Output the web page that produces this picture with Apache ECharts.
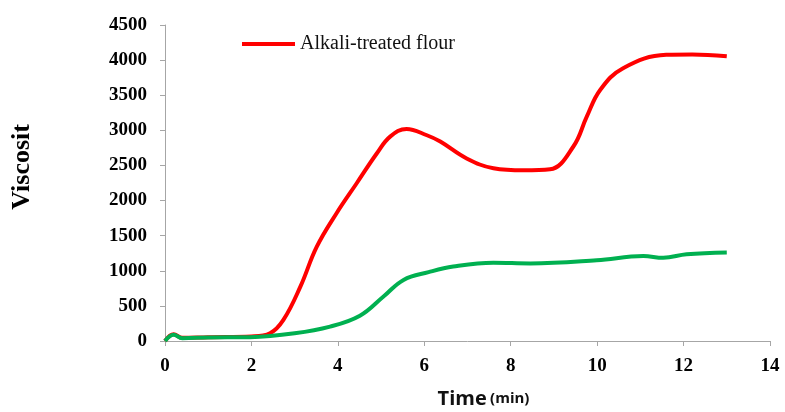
<!DOCTYPE html>
<html>
<head>
<meta charset="utf-8">
<script src="https://cdn.jsdelivr.net/npm/echarts@6/dist/echarts.min.js"></script>
<style>
  html, body { margin: 0; padding: 0; background: #fff; }
  #chart { width: 785px; height: 412px; }
</style>
</head>
<body>
<div id="chart"></div>
<script>
// Viscosity profile (time in min, viscosity)
const alkaliTime = [0, 0.2, 0.4, 1, 2, 2.43, 2.74, 3.13, 3.51, 3.97, 4.44, 4.9, 5.21, 5.59, 6.06, 6.37, 6.98, 7.6, 8.3, 8.91, 9.45, 9.76, 10.07, 10.6, 11.6, 12.2, 13];
const alkaliVisc = [0, 95, 45, 55, 65, 110, 300, 770, 1340, 1820, 2250, 2670, 2910, 3020, 2930, 2840, 2600, 2460, 2430, 2445, 2770, 3195, 3575, 3885, 4075, 4080, 4055];

const nativeTime = [0, 0.2, 0.4, 1, 1.97, 3, 3.82, 4.51, 5.05, 5.52, 6.1, 6.67, 7.6, 8.45, 9.99, 11.07, 11.53, 12.07, 13];
const nativeVisc = [0, 90, 40, 50, 55, 110, 205, 360, 630, 870, 980, 1060, 1115, 1105, 1150, 1210, 1185, 1235, 1260];

const xTicks = [0, 14, 2];      // min, max, interval
const yTicks = [0, 4500, 500];  // min, max, interval

const pair = (xs, ys) => xs.map((x, i) => [x, ys[i]]);

const chart = echarts.init(document.getElementById('chart'));
chart.setOption({
  animation: false,
  grid: { left: 165, right: 15, top: 25, bottom: 71, outerBoundsMode: 'none', containLabel: false },
  legend: {
    data: ['Alkali-treated flour'],
    icon: 'rect',
    left: 242, top: 34, padding: 0,
    itemWidth: 53, itemHeight: 4, itemGap: 5,
    textStyle: { fontFamily: 'Liberation Serif', fontSize: 20, color: '#111', padding: [0, 0, 0, 0] }
  },
  xAxis: {
    type: 'value',
    min: xTicks[0], max: xTicks[1], interval: xTicks[2],
    axisLine: { lineStyle: { color: '#a6a6a6', width: 1 } },
    axisTick: { length: 5, lineStyle: { color: '#a6a6a6' } },
    splitLine: { show: false },
    axisLabel: { margin: 16, fontFamily: 'Liberation Serif', fontWeight: 'bold', fontSize: 19, color: '#000' },
    name: '{a|Time} {b|(min)}',
    nameLocation: 'middle',
    nameGap: 48,
    nameTextStyle: {
      padding: [0, 0, 0, 32],
      rich: {
        a: { fontFamily: 'Open Sans', fontWeight: 'bold', fontSize: 20, color: '#111' },
        b: { fontFamily: 'Open Sans', fontWeight: 'bold', fontSize: 15, color: '#111' }
      }
    }
  },
  yAxis: {
    type: 'value',
    min: yTicks[0], max: yTicks[1], interval: yTicks[2],
    axisLine: { show: true, lineStyle: { color: '#a6a6a6', width: 1 } },
    axisTick: { show: true, length: 5, lineStyle: { color: '#a6a6a6' } },
    splitLine: { show: false },
    axisLabel: {
      margin: 18, fontFamily: 'Liberation Serif', fontWeight: 'bold', fontSize: 19, color: '#000',
      formatter: v => String(v)
    }
  },
  graphic: [{
    type: 'text',
    left: 9, top: 124,
    rotation: Math.PI / 2,
    style: {
      text: 'Viscosit',
      font: 'bold 26px "Liberation Serif"',
      fill: '#000'
    }
  }],
  series: [
    {
      name: 'Native flour',
      type: 'line',
      data: pair(nativeTime, nativeVisc),
      smooth: 0.4,
      symbol: 'none',
      lineStyle: { color: '#00b050', width: 4 },
      itemStyle: { color: '#00b050' },
      z: 3
    },
    {
      name: 'Alkali-treated flour',
      type: 'line',
      data: pair(alkaliTime, alkaliVisc),
      smooth: 0.4,
      symbol: 'none',
      lineStyle: { color: '#ff0000', width: 4 },
      itemStyle: { color: '#ff0000' },
      z: 2
    }
  ]
});
</script>
</body>
</html>
